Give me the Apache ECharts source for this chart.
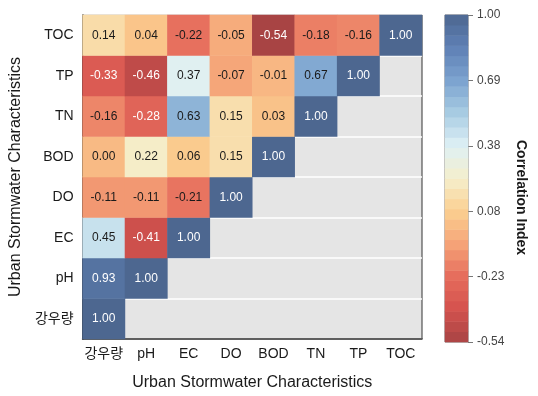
<!DOCTYPE html>
<html><head><meta charset="utf-8">
<script src="https://cdn.jsdelivr.net/npm/echarts@6/dist/echarts.min.js"></script>
<style>html,body{margin:0;padding:0;background:#fff}#c{width:538px;height:396px}</style>
</head><body><div id="c"></div>
<script>
const xCats = ['강우량','pH','EC','DO','BOD','TN','TP','TOC'];
const yCats = ['강우량','pH','EC','DO','BOD','TN','TP','TOC'];
// rows listed bottom (강우량) to top (TOC); each row values by column
const row_rain = [1.00];
const row_pH   = [0.93, 1.00];
const row_EC   = [0.45, -0.41, 1.00];
const row_DO   = [-0.11, -0.11, -0.21, 1.00];
const row_BOD  = [0.00, 0.22, 0.06, 0.15, 1.00];
const row_TN   = [-0.16, -0.28, 0.63, 0.15, 0.03, 1.00];
const row_TP   = [-0.33, -0.46, 0.37, -0.07, -0.01, 0.67, 1.00];
const row_TOC  = [0.14, 0.04, -0.22, -0.05, -0.54, -0.18, -0.16, 1.00];
const rows = [row_rain, row_pH, row_EC, row_DO, row_BOD, row_TN, row_TP, row_TOC];
const cbTicks = ['-0.54','-0.23','0.08','0.38','0.69','1.00'];
const vMin = -0.54, vMax = 1.00, nBands = 32;

const FONT = "'Liberation Sans', Arial, 'Noto Sans CJK KR', sans-serif";
const data = [];
rows.forEach((r, yi) => r.forEach((v, xi) => {
  const dark = v < -0.25 || v > 0.8;
  data.push({value: [xi, yi, v], label: {color: dark ? '#ffffff' : '#1a1a1a'}});
}));
const bands = [];
for (let i = 0; i < nBands; i++) bands.push([0, i, vMin + (i + 0.5) * (vMax - vMin) / nBands]);
const bandCats = bands.map((b, i) => 'b' + i);

const chart = echarts.init(document.getElementById('c'));
chart.setOption({
  animation: false,
  textStyle: {fontFamily: FONT},
  grid: [
    {left: 80, top: 15, width: 342, height: 328, show: true, backgroundColor: '#e5e5e5', borderColor: '#333', borderWidth: 1},
    {left: 445, top: 15, width: 23, height: 327, show: true, backgroundColor: 'transparent', borderColor: '#777', borderWidth: 1}
  ],
  xAxis: [
    {type: 'category', data: xCats, gridIndex: 0,
     axisLine: {lineStyle: {color: '#333', width: 1.5}},
     axisTick: {alignWithLabel: true, interval: 0, length: 5, lineStyle: {color: '#333'}},
     axisLabel: {color: '#1a1a1a', fontSize: 14, margin: 8, interval: 0, fontFamily: FONT},
     splitLine: {show: false},
     name: 'Urban Stormwater Characteristics', nameLocation: 'middle', nameGap: 36,
     nameTextStyle: {fontSize: 16, color: '#1a1a1a', fontFamily: FONT}},
    {type: 'category', data: ['cb'], gridIndex: 1, show: false}
  ],
  yAxis: [
    {type: 'category', data: yCats, gridIndex: 0,
     axisLine: {lineStyle: {color: '#333', width: 1.5}},
     axisTick: {alignWithLabel: true, interval: 0, length: 5, lineStyle: {color: '#333'}},
     axisLabel: {color: '#1a1a1a', fontSize: 14, margin: 9, interval: 0, fontFamily: FONT},
     splitLine: {show: true, interval: 0, lineStyle: {color: '#ffffff', width: 1.5}},
     name: 'Urban Stormwater Characteristics', nameLocation: 'middle', nameGap: 54,
     nameTextStyle: {fontSize: 16, color: '#1a1a1a', fontFamily: FONT}},
    {type: 'category', data: bandCats, gridIndex: 1, show: false},
    {type: 'value', gridIndex: 1, min: 0, max: cbTicks.length - 1, interval: 1, position: 'right',
     axisLine: {show: false},
     axisTick: {show: true, length: 5, lineStyle: {color: '#777'}},
     splitLine: {show: false},
     axisLabel: {color: '#444', fontSize: 12, margin: 9, fontFamily: FONT, formatter: v => cbTicks[Math.round(v)]}}
  ],
  visualMap: {
    show: false, type: 'continuous', min: vMin, max: vMax, dimension: 2, seriesIndex: [0, 1],
    inRange: {color: ['#a84444','#d4524e','#e66c5c','#f5a478','#fbcf90','#f5efcc','#def0f5','#a8cce3','#7ca3cf','#5f81b6','#4d6790']}
  },
  series: [
    {type: 'heatmap', xAxisIndex: 0, yAxisIndex: 0, data: data,
     label: {show: true, fontSize: 12, fontFamily: FONT, formatter: p => p.value[2].toFixed(2)},
     itemStyle: {borderWidth: 0}},
    {type: 'heatmap', xAxisIndex: 1, yAxisIndex: 1, data: bands, silent: true}
  ],
  graphic: [{type: 'text', left: 514, top: 140, rotation: -Math.PI / 2,
    style: {text: 'Correlation Index', fill: '#1a1a1a', font: "bold 14px 'Liberation Sans', Arial, sans-serif"}}]
});
</script></body></html>
